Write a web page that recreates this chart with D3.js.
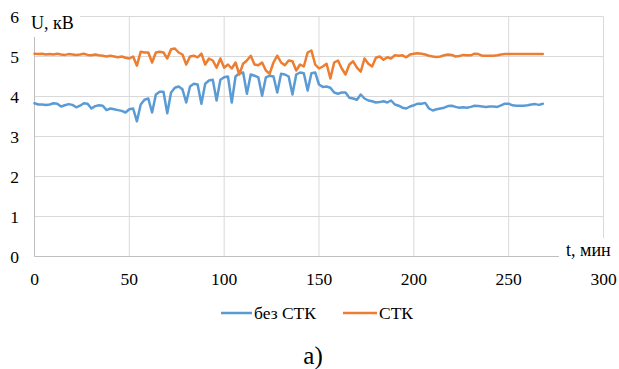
<!DOCTYPE html>
<html>
<head>
<meta charset="utf-8">
<script src="https://cdn.jsdelivr.net/npm/d3@7"></script>
<style>
  html, body { margin: 0; padding: 0; background: #fff; }
  svg { display: block; }
  svg text { font-family: "Times New Roman", Times, "Liberation Serif", Tinos, "DejaVu Serif", "Noto Serif", serif; }
</style>
</head>
<body>
<svg id="chart" width="619" height="369"></svg>
<script>
// Voltage readings, kV, sampled every 2 minutes from t = 0 to t = 268 min
const sampleStepMin = 2;

const withoutSvc = [
  3.83, 3.80, 3.80, 3.79, 3.80, 3.83, 3.82, 3.75, 3.78, 3.81,
  3.79, 3.73, 3.77, 3.83, 3.82, 3.70, 3.76, 3.78, 3.77, 3.66,
  3.70, 3.68, 3.66, 3.64, 3.60, 3.68, 3.70, 3.38, 3.80, 3.92,
  3.95, 3.60, 4.05, 4.12, 4.12, 3.58, 4.10, 4.22, 4.25, 4.18,
  3.85, 4.25, 4.32, 4.30, 3.82, 4.32, 4.40, 4.42, 3.90, 4.42,
  4.48, 4.50, 3.85, 4.50, 4.58, 4.60, 4.07, 4.55, 4.52, 4.48,
  4.02, 4.48, 4.52, 4.50, 4.10, 4.57, 4.55, 4.50, 4.05, 4.55,
  4.60, 4.58, 4.15, 4.58, 4.60, 4.30, 4.24, 4.25, 4.22, 4.10,
  4.07, 4.10, 4.10, 3.97, 3.95, 3.92, 4.05, 3.95, 3.90, 3.88,
  3.85, 3.86, 3.88, 3.85, 3.90, 3.80, 3.77, 3.72, 3.70, 3.75,
  3.78, 3.82, 3.82, 3.84, 3.70, 3.65, 3.68, 3.70, 3.72, 3.76,
  3.77, 3.74, 3.72, 3.73, 3.72, 3.74, 3.77, 3.76, 3.75, 3.74,
  3.75, 3.75, 3.74, 3.78, 3.82, 3.82, 3.78, 3.77, 3.77, 3.77,
  3.78, 3.80, 3.81, 3.79, 3.82
];

const withSvc = [
  5.07, 5.06, 5.07, 5.05, 5.06, 5.05, 5.07, 5.05, 5.04, 5.06,
  5.05, 5.04, 5.05, 5.07, 5.04, 5.03, 5.05, 5.03, 5.02, 5.00,
  5.02, 5.00, 4.98, 5.00, 4.97, 4.95, 5.00, 4.77, 5.12, 5.10,
  5.10, 4.85, 5.10, 5.12, 5.10, 4.95, 5.18, 5.20, 5.10, 5.05,
  4.80, 5.00, 5.02, 4.98, 5.07, 4.80, 4.95, 4.90, 4.72, 4.95,
  4.72, 4.80, 4.70, 4.85, 4.55, 4.82, 4.90, 5.02, 4.80, 4.78,
  4.85, 4.65, 4.57, 4.85, 5.02, 4.85, 4.78, 4.90, 4.88, 4.65,
  4.80, 4.75, 5.10, 5.15, 4.80, 4.70, 4.75, 4.82, 4.45, 4.85,
  4.90, 4.70, 4.55, 4.80, 4.88, 4.72, 4.62, 4.95, 4.82, 4.75,
  4.97, 5.00, 4.92, 4.98, 4.95, 5.03, 5.02, 5.03, 4.98, 5.05,
  5.07, 5.08, 5.07, 5.05, 5.02, 5.00, 4.99, 5.00, 5.03, 5.05,
  5.04, 5.00, 5.01, 5.04, 5.03, 5.03, 5.07, 5.06, 5.02, 5.02,
  5.02, 5.02, 5.03, 5.05, 5.06, 5.06, 5.06, 5.06, 5.06, 5.06,
  5.06, 5.06, 5.06, 5.06, 5.06
];

const xTicks = [0, 50, 100, 150, 200, 250, 300];
const yTicks = [0, 1, 2, 3, 4, 5, 6];

const seriesNames = ["без СТК", "СТК"];
const seriesColors = ["#5B9BD5", "#ED7D31"];

const svg = d3.select("#chart");

const x = d3.scaleLinear().domain([0, 300]).range([34.5, 603.5]);
const y = d3.scaleLinear().domain([0, 6]).range([256.5, 16.5]);

// gridlines
const grid = svg.append("g").attr("stroke", "#d9d9d9").attr("stroke-width", 1);
grid.selectAll("line.h").data(yTicks.slice(1)).join("line")
  .attr("x1", x(0)).attr("x2", x(300))
  .attr("y1", d => y(d)).attr("y2", d => y(d));
grid.selectAll("line.v").data(xTicks.slice(1)).join("line")
  .attr("x1", d => x(d)).attr("x2", d => x(d))
  .attr("y1", y(6)).attr("y2", y(0));

// axis lines
svg.append("line").attr("x1", x(0)).attr("x2", x(300)).attr("y1", y(0)).attr("y2", y(0))
  .attr("stroke", "#bfbfbf");
svg.append("line").attr("x1", x(0)).attr("x2", x(0)).attr("y1", y(6)).attr("y2", y(0))
  .attr("stroke", "#bfbfbf");

// tick labels
svg.append("g").selectAll("text").data(xTicks).join("text")
  .attr("x", d => x(d)).attr("y", 285)
  .attr("text-anchor", "middle").attr("font-size", 17.5)
  .text(d => d);
svg.append("g").selectAll("text").data(yTicks).join("text")
  .attr("x", 19).attr("y", d => y(d) + 6)
  .attr("text-anchor", "end").attr("font-size", 17.5)
  .text(d => d);

// series
const line = d3.line()
  .x((d, i) => x(i * sampleStepMin))
  .y(d => y(d));

[withoutSvc, withSvc].forEach((vals, k) => {
  svg.append("path")
    .datum(vals)
    .attr("fill", "none")
    .attr("stroke", seriesColors[k])
    .attr("stroke-width", 2.5)
    .attr("stroke-linejoin", "round")
    .attr("stroke-linecap", "round")
    .attr("d", line);
});

// axis titles on white boxes
svg.append("rect").attr("x", 28).attr("y", 6).attr("width", 52).attr("height", 31).attr("fill", "#fff");
svg.append("text").attr("x", 31).attr("y", 29).attr("font-size", 18).text("U, кВ");

svg.append("rect").attr("x", 559).attr("y", 238).attr("width", 60).attr("height", 24).attr("fill", "#fff");
svg.append("text").attr("x", 566).attr("y", 256).attr("font-size", 18).text("t, мин");

// legend
const legendItems = [
  { x1: 221, x2: 252, tx: 254 },
  { x1: 343, x2: 377, tx: 379 }
];
const lg = svg.append("g");
legendItems.forEach((it, k) => {
  lg.append("line").attr("x1", it.x1).attr("x2", it.x2).attr("y1", 313).attr("y2", 313)
    .attr("stroke", seriesColors[k]).attr("stroke-width", 2.5);
  lg.append("text").attr("x", it.tx).attr("y", 319).attr("font-size", 17.5).text(seriesNames[k]);
});

// caption
svg.append("text").attr("x", 313).attr("y", 364).attr("text-anchor", "middle")
  .attr("font-size", 25).text("а)");
</script>
</body>
</html>
